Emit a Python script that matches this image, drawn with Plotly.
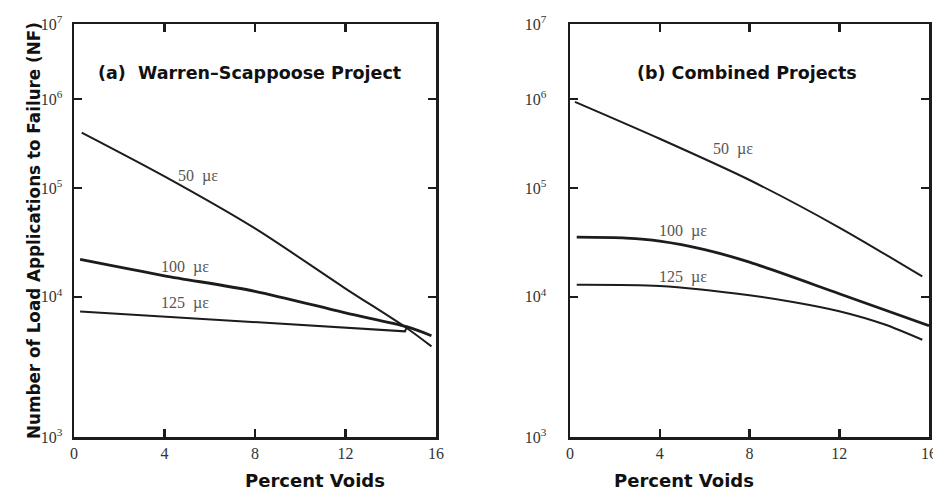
import numpy as np
import plotly.graph_objects as go

# ---------------- data ----------------
# Panel (a) Warren-Scappoose Project
a_x_50 = [0.34, 4, 8, 12, 14.7, 15.8]
a_n_50 = [4.0e5, 1.32e5, 4.0e4, 1.17e4, 5.65e3, 4.1e3]
a_x_100 = [0.27, 4, 8, 12, 14.7, 15.8]
a_n_100 = [2.08e4, 1.50e4, 1.11e4, 7.41e3, 5.78e3, 4.93e3]
a_x_125 = [0.27, 8, 14.63, 14.68]
a_n_125 = [7.62e3, 6.27e3, 5.32e3, 5.6e3]

# Panel (b) Combined Projects
b_x_50 = [0.22, 4, 8, 12, 15.7]
b_n_50 = [9.26e5, 3.40e5, 1.21e5, 4.08e4, 1.48e4]
b_x_100 = [0.3, 2.5, 4, 6, 8, 12, 16]
b_n_100 = [3.31e4, 3.25e4, 3.05e4, 2.55e4, 1.97e4, 1.06e4, 5.88e3]
b_x_125 = [0.3, 4, 8, 10, 12, 14, 15.7]
b_n_125 = [1.26e4, 1.23e4, 1.03e4, 9.04e3, 7.65e3, 6.04e3, 4.60e3]

x_ticks = [0, 4, 8, 12, 16]
y_decades = [3, 4, 5, 6, 7]
y_tick_text = ["10<sup>%d</sup>" % d for d in y_decades]
curve_labels = ["50  µε", "100  µε", "125  µε"]
panel_titles = ["(a)  Warren\u2013Scappoose Project", "(b) Combined Projects"]
x_title = "Percent Voids"
y_title = "Number of Load Applications to Failure (NF)"

# The y scale of the original is log(log NF): plot log10(NF) on a log axis.
def yv(n):
    return np.log10(np.array(n, dtype=float))

ink = "#1c1c1c"
fig = go.Figure()

def add(x, n, xa, ya, w, shape="spline"):
    fig.add_trace(go.Scatter(
        x=x, y=yv(n), xaxis=xa, yaxis=ya, mode="lines",
        line=dict(color=ink, width=w, shape=shape, smoothing=0.8),
        hoverinfo="skip", showlegend=False))

add(a_x_50, a_n_50, "x", "y", 2.0)
add(a_x_100, a_n_100, "x", "y", 2.8)
add(a_x_125, a_n_125, "x", "y", 2.0, "linear")
add(b_x_50, b_n_50, "x2", "y2", 2.0)
add(b_x_100, b_n_100, "x2", "y2", 2.8)
add(b_x_125, b_n_125, "x2", "y2", 2.0)

tickfont = dict(family="Liberation Serif", size=16, color="#333333")
xcommon = dict(range=[0, 16], tickvals=x_ticks, ticks="inside", ticklen=8,
               tickwidth=2.5, tickcolor=ink, showline=True, linewidth=2.5,
               linecolor=ink, mirror="ticks", showgrid=False, zeroline=False,
               tickfont=tickfont, automargin=False, ticklabeloverflow="allow")
ycommon = dict(type="log", range=[np.log10(np.log10(1e3)), np.log10(np.log10(1e7))],
               tickvals=list(map(float, y_decades)), ticktext=y_tick_text,
               ticks="inside", ticklen=8, tickwidth=2.5, tickcolor=ink,
               showline=True, linewidth=2.5, linecolor=ink, mirror="ticks",
               showgrid=False, zeroline=False, tickfont=tickfont,
               automargin=False, ticklabeloverflow="allow")

W, H = 933, 498
top, bottom = 24, 437
fig.update_layout(
    width=W, height=H, autosize=False,
    margin=dict(l=0, r=0, t=0, b=0, pad=0),
    paper_bgcolor="white", plot_bgcolor="white",
    xaxis=dict(domain=[74 / W, 436 / W], anchor="y", **xcommon),
    yaxis=dict(domain=[1 - bottom / H, 1 - top / H], anchor="x",
               ticklabelstandoff=6, **ycommon),
    xaxis2=dict(domain=[570 / W, 929 / W], anchor="y2", **xcommon),
    yaxis2=dict(domain=[1 - bottom / H, 1 - top / H], anchor="x2",
                ticklabelstandoff=18, **ycommon),
    hovermode=False,
)

lab_font = dict(family="Liberation Serif", size=16, color="#555555")
labels = [
    ("x", "y", 0.3425, 0.631, curve_labels[0]),
    ("x", "y", 0.3066, 0.4126, curve_labels[1]),
    ("x", "y", 0.3066, 0.3252, curve_labels[2]),
    ("x2", "y2", 0.454, 0.6966, curve_labels[0]),
    ("x2", "y2", 0.3148, 0.4976, curve_labels[1]),
    ("x2", "y2", 0.3148, 0.3883, curve_labels[2]),
]
for xr, yr, xd, yd, t in labels:
    fig.add_annotation(xref=xr + " domain", yref=yr + " domain", x=xd, y=yd,
                       text=t, showarrow=False, font=lab_font,
                       xanchor="center", yanchor="middle")

title_font = dict(family="DejaVu Sans", size=17.5, color="#111111", weight="bold")
fig.add_annotation(xref="x domain", yref="y domain", x=0.486, y=0.910,
                   text=panel_titles[0], showarrow=False, font=title_font)
fig.add_annotation(xref="x2 domain", yref="y2 domain", x=0.493, y=0.910,
                   text=panel_titles[1], showarrow=False, font=title_font)

xt_font = dict(family="DejaVu Sans", size=18, color="#111111", weight="bold")
fig.add_annotation(xref="paper", yref="paper", x=243 / W, y=1 - 480 / H,
                   text=x_title, showarrow=False, font=xt_font,
                   yanchor="middle")
fig.add_annotation(xref="paper", yref="paper", x=756 / W, y=1 - 480 / H,
                   text=x_title, showarrow=False, font=xt_font,
                   yanchor="middle")
fig.add_annotation(xref="paper", yref="paper", x=22 / W, y=1 - 231 / H,
                   text=y_title, showarrow=False, textangle=-90,
                   font=dict(family="DejaVu Sans", size=16.8, color="#111111",
                             weight="bold"))

fig.write_html("out.html",
               config={"displayModeBar": False, "staticPlot": True},
               post_script="document.body.style.margin='0';"
                           "document.body.style.overflow='hidden';")
